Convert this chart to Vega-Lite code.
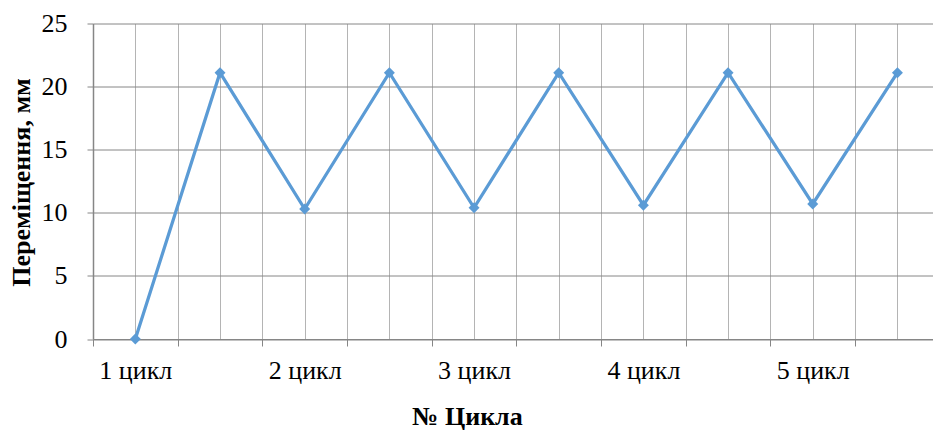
{
  "$schema": "https://vega.github.io/schema/vega-lite/v6.json",
  "width": 840,
  "height": 315.5,
  "autosize": {"type": "none"},
  "padding": {"left": 93, "top": 23.5, "right": 0, "bottom": 93},
  "background": "white",
  "config": {
    "view": {"stroke": null},
    "font": "Liberation Serif"
  },
  "data": {
    "values": [
      {"point": 1, "value": 0},
      {"point": 2, "value": 21.1},
      {"point": 3, "value": 10.3},
      {"point": 4, "value": 21.1},
      {"point": 5, "value": 10.4},
      {"point": 6, "value": 21.1},
      {"point": 7, "value": 10.6},
      {"point": 8, "value": 21.1},
      {"point": 9, "value": 10.7},
      {"point": 10, "value": 21.1}
    ]
  },
  "mark": {
    "type": "line",
    "color": "#5B9BD5",
    "strokeWidth": 3.25,
    "point": {"shape": "diamond", "size": 120, "filled": true, "color": "#5B9BD5", "opacity": 1}
  },
  "encoding": {
    "x": {
      "field": "point",
      "type": "quantitative",
      "scale": {"domain": [0.5, 10.42], "nice": false, "zero": false},
      "axis": {
        "values": [0.5, 1, 1.5, 2, 2.5, 3, 3.5, 4, 4.5, 5, 5.5, 6, 6.5, 7, 7.5, 8, 8.5, 9, 9.5, 10],
        "grid": true,
        "gridColor": "#b4b4b4",
        "gridWidth": 1,
        "gridOpacity": 1,
        "domainColor": "#868686",
        "domainWidth": 1,
        "ticks": true,
        "tickSize": 7,
        "tickColor": "#868686",
        "tickOpacity": {"condition": {"test": "datum.value % 1 === 0", "value": 0}, "value": 1},
        "labelExpr": "datum.value % 2 === 1 ? ((datum.value + 1) / 2) + ' цикл' : ''",
        "labelFont": "Liberation Serif",
        "labelFontSize": 26,
        "labelColor": "#000000",
        "labelBaseline": "alphabetic",
        "labelPadding": 32,
        "labelOverlap": false,
        "labelFlush": false,
        "title": "№ Цикла",
        "titleFont": "Liberation Serif",
        "titleFontSize": 26,
        "titleFontWeight": "bold",
        "titleColor": "#000000",
        "titleX": 374,
        "titleY": 85,
        "titleAlign": "center",
        "titleBaseline": "alphabetic"
      }
    },
    "y": {
      "field": "value",
      "type": "quantitative",
      "scale": {"domain": [0, 25], "nice": false},
      "axis": {
        "values": [0, 5, 10, 15, 20, 25],
        "grid": true,
        "gridColor": "#868686",
        "gridWidth": 1,
        "gridOpacity": 1,
        "domainColor": "#868686",
        "domainWidth": 1.5,
        "tickSize": 6,
        "tickColor": "#868686",
        "labelFont": "Liberation Serif",
        "labelFontSize": 26,
        "labelColor": "#000000",
        "labelPadding": 20,
        "labelBaseline": "middle",
        "title": "Переміщення, мм",
        "titleFont": "Liberation Serif",
        "titleFontSize": 26,
        "titleFontWeight": "bold",
        "titleColor": "#000000",
        "titleAngle": 270,
        "titleX": -64,
        "titleY": 158.5,
        "titleAlign": "center",
        "titleBaseline": "alphabetic"
      }
    }
  }
}
